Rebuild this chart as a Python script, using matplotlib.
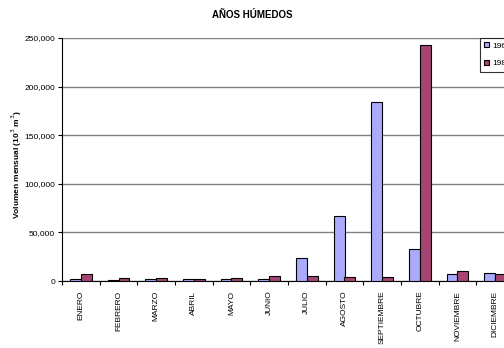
import numpy as np
import matplotlib
matplotlib.use("Agg")
import matplotlib.pyplot as plt
import matplotlib.ticker as ticker

plt.rcParams['font.family'] = ['Liberation Sans', 'DejaVu Sans']

# Data (10^3 m^3)
meses = ['ENERO', 'FEBRERO', 'MARZO', 'ABRIL', 'MAYO', 'JUNIO', 'JULIO',
         'AGOSTO', 'SEPTIEMBRE', 'OCTUBRE', 'NOVIEMBRE', 'DICIEMBRE']
serie_1 = [1700, 1000, 1700, 1700, 2000, 2400, 24000, 67000, 184000, 33200, 7200, 8200]
serie_2 = [7300, 2800, 3400, 2400, 3000, 4800, 4800, 4500, 4100, 242800, 10600, 7500]
nombres = ['1966', '1987']

fig = plt.figure(figsize=(5.04, 3.48), dpi=100)
# plot area runs past the right edge, as in the reference
ax = fig.add_axes([62 / 504, 67 / 348, 452 / 504, 243 / 348])

x = np.arange(len(meses))
w = 0.29
b1 = ax.bar(x - w / 2, serie_1, w, color='#AAAAFF', edgecolor='black', linewidth=0.8, label=nombres[0], zorder=3)
b2 = ax.bar(x + w / 2, serie_2, w, color='#A64474', edgecolor='black', linewidth=0.8, label=nombres[1], zorder=3)

ax.set_xlim(-0.5, len(meses) - 0.5)
ax.set_ylim(0, 250000)
ax.yaxis.set_major_locator(ticker.MultipleLocator(50000))
ax.yaxis.set_major_formatter(ticker.FuncFormatter(lambda v, p: '{:,.0f}'.format(v)))
ax.grid(axis='y', color='#808080', linewidth=1, zorder=0)

ax.set_xticks(x)
ax.set_xticklabels(meses, rotation=90, fontsize=6)
ax.set_xticks(np.arange(len(meses) + 1) - 0.5, minor=True)
ax.tick_params(axis='x', which='major', length=0, pad=7)
ax.tick_params(axis='x', which='minor', length=3, width=0.8)
ax.tick_params(axis='y', labelsize=6, length=3, width=0.8, pad=2)

for s in ['top', 'right']:
    ax.spines[s].set_visible(False)
for s in ['left', 'bottom']:
    ax.spines[s].set_linewidth(0.8)

fig.text(17 / 504, 1 - 165 / 348, 'Volumen mensual (10$^3$ m$^3$)', rotation=90,
         ha='center', va='center', fontsize=6, fontweight='bold')
fig.text(0.5, 1 - 15 / 348, 'AÑOS HÚMEDOS', ha='center', va='center', fontsize=7, fontweight='bold')

leg = fig.legend(handles=[b1, b2], loc='upper left', bbox_to_anchor=(480 / 504, 1 - 38 / 348),
                 fontsize=6, frameon=True, fancybox=False, edgecolor='black',
                 handlelength=0.6, handleheight=0.6, borderpad=0.5, borderaxespad=0,
                 labelspacing=1.2, handletextpad=0.4)
leg.get_frame().set_linewidth(0.8)

fig.savefig('out.png', dpi=100)
